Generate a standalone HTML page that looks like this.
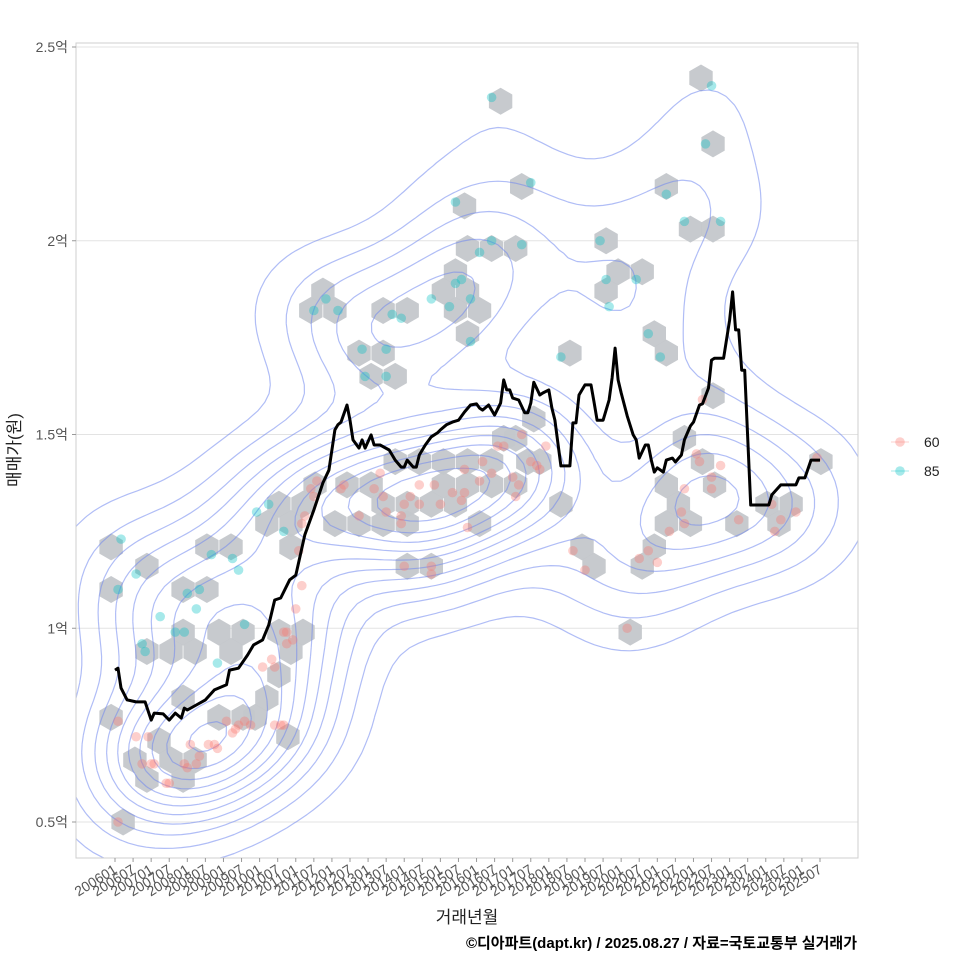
<!DOCTYPE html>
<html><head><meta charset="utf-8">
<style>
html,body{margin:0;padding:0;background:#fff;}
svg{display:block;font-family:"Liberation Sans","Noto Sans CJK KR",sans-serif;}
</style></head>
<body>
<svg id="chart" width="960" height="960" viewBox="0 0 960 960">
<rect x="0" y="0" width="960" height="960" fill="#fff"/>
<g id="grid"></g>
<g id="hexes"></g>
<g id="contours"></g>
<g id="pts"></g>
<g id="line"></g>
<rect x="76" y="43" width="782" height="815" fill="none" stroke="#cfcfcf" stroke-width="1"/>
<g id="axes"></g>
<text x="467" y="923" font-size="17" fill="#222" text-anchor="middle">거래년월</text>
<text x="0" y="0" font-size="17" fill="#222" text-anchor="middle" transform="translate(20,450) rotate(-90)">매매가(원)</text>
<text x="857" y="948" font-size="15" font-weight="bold" fill="#000" text-anchor="end">©디아파트(dapt.kr) / 2025.08.27 / 자료=국토교통부 실거래가</text>
<g id="legend"></g>
</svg>
<script>
// ---- data ----
const yTicks = [0.5, 1, 1.5, 2, 2.5];
const yTickLabels = ["0.5억", "1억", "1.5억", "2억", "2.5억"];
const xTickLabels = [];
for (let yr = 2006; yr <= 2025; yr++) { xTickLabels.push(yr + "01"); xTickLabels.push(yr + "07"); }

const lineMonth = [0,1,2,4,7,10,12,13,16,18,20,22,23,24,27,30,33,37,38,41,44,46,49,51,53,55,58,60,63,66,69,71,73,74,75,77,78,79,81,82,83,85,86,88,91,93,95,96,97,99,100,101,103,105,107,108,110,112,114,116,118,120,121,122,124,126,128,129,130,131,132,134,136,137,138,139,141,142,144,145,146,148,151,152,153,154,156,158,159,160,162,164,165,166,167,168,170,172,173,174,176,177,178,179,180,182,183,185,186,188,189,191,192,194,195,197,198,199,202,204,205,206,207,208,209,211,215,217,218,221,226,227,229,231,234];
const lineValue = [0.892,0.897,0.846,0.815,0.81,0.81,0.763,0.781,0.779,0.763,0.781,0.768,0.794,0.789,0.802,0.815,0.841,0.854,0.892,0.897,0.931,0.957,0.97,1.008,1.073,1.078,1.125,1.137,1.241,1.305,1.375,1.408,1.512,1.525,1.532,1.576,1.537,1.486,1.465,1.486,1.465,1.499,1.473,1.473,1.46,1.434,1.416,1.416,1.434,1.416,1.416,1.447,1.473,1.494,1.504,1.512,1.525,1.532,1.537,1.558,1.576,1.579,1.568,1.563,1.576,1.55,1.581,1.641,1.615,1.615,1.594,1.589,1.556,1.556,1.581,1.635,1.602,1.607,1.615,1.568,1.537,1.419,1.419,1.53,1.53,1.602,1.628,1.628,1.584,1.537,1.537,1.589,1.646,1.723,1.641,1.607,1.548,1.499,1.486,1.439,1.473,1.473,1.434,1.403,1.414,1.403,1.434,1.439,1.429,1.447,1.486,1.522,1.532,1.576,1.579,1.62,1.692,1.697,1.697,1.795,1.868,1.77,1.77,1.666,1.666,1.318,1.318,1.318,1.344,1.37,1.37,1.388,1.388,1.434,1.434];

const redMonth = [1,1,7,9,11,12,13,17,18,23,24,25,27,28,31,33,34,37,39,40,41,43,45,49,53,55,56,52,53,56,57,59,57,60,62,61,62,63,65,66,67,75,76,81,86,88,89,90,95,95,96,98,101,101,106,108,112,115,116,116,117,121,122,125,127,129,132,133,134,135,138,140,141,143,152,156,105,105,96,170,174,177,180,184,189,188,189,194,193,198,198,207,218,219,221,226,233,201,195];
const redValue = [0.76,0.50,0.72,0.65,0.72,0.65,0.65,0.60,0.60,0.65,0.64,0.70,0.65,0.67,0.70,0.70,0.69,0.76,0.73,0.74,0.75,0.76,0.75,0.90,0.75,0.75,0.75,0.92,0.90,0.99,0.99,0.97,0.96,1.05,1.11,1.20,1.27,1.29,1.36,1.34,1.38,1.36,1.37,1.29,1.36,1.40,1.34,1.30,1.29,1.27,1.32,1.34,1.32,1.37,1.37,1.32,1.35,1.33,1.35,1.41,1.26,1.38,1.43,1.40,1.47,1.47,1.39,1.34,1.37,1.50,1.43,1.42,1.41,1.47,1.20,1.15,1.16,1.14,1.16,1.00,1.18,1.20,1.17,1.25,1.27,1.30,1.36,1.43,1.45,1.36,1.39,1.28,1.32,1.25,1.28,1.30,1.44,1.42,1.59];

const tealMonth = [2,1,7,9,10,15,20,23,24,27,28,32,34,39,41,43,47,51,56,66,70,74,82,90,83,90,92,95,105,111,113,113,115,118,118,121,125,125,135,138,148,161,163,164,173,177,181,183,189,196,198,201];
const tealValue = [1.23,1.10,1.14,0.96,0.94,1.03,0.99,0.99,1.09,1.05,1.10,1.19,0.91,1.18,1.15,1.01,1.30,1.32,1.25,1.82,1.85,1.82,1.72,1.72,1.65,1.65,1.81,1.80,1.85,1.83,2.10,1.89,1.90,1.85,1.74,1.97,2.37,2.00,1.99,2.15,1.70,2.00,1.90,1.83,1.90,1.76,1.70,2.12,2.05,2.25,2.40,2.05];

const hexMonth = [-1.3,-1.3,-1.3,2.7,10.6,10.6,6.6,10.6,14.6,22.6,30.5,22.6,18.6,26.6,22.6,18.6,26.6,22.6,30.5,38.5,34.5,42.5,38.5,34.5,42.5,46.5,54.4,50.4,58.4,58.4,54.4,58.4,54.4,50.4,57.4,62.4,66.4,62.4,69,65,73,73,81,89,97,81,89,97,89,85,93,77,93,101,109,117,125,97,105,89,97,105,113,121,109,117,125,85,113,117,109,117,125,133,121,117,113,116,128,135,133,129,137,133,141,139,148,151,155,159,163,163,167,175,171,175,179,183,179,183,187,183,191,183,194.5,198.5,191,198.5,198.5,189,195,199,206.4,216.4,220.4,224.4,234.3];
const hexValue = [1.21,1.10,0.77,0.50,1.16,0.94,0.66,0.61,0.71,1.10,1.10,0.99,0.94,0.94,0.82,0.66,0.66,0.61,1.21,1.21,0.99,0.99,0.94,0.77,0.77,0.77,1.32,1.27,1.27,1.21,0.99,0.94,0.88,0.82,0.72,0.99,1.37,1.32,1.87,1.82,1.82,1.27,1.27,1.27,1.27,1.71,1.82,1.82,1.71,1.65,1.65,1.37,1.43,1.43,1.43,1.43,1.43,1.16,1.16,1.32,1.32,1.32,1.32,1.27,1.37,1.37,1.37,1.37,1.92,1.98,1.87,1.87,1.98,1.98,1.82,1.76,1.82,2.09,2.36,2.14,1.49,1.49,1.43,1.37,1.43,1.54,1.32,1.71,1.21,1.16,2.00,1.87,1.92,1.92,0.99,1.16,1.76,1.71,1.21,1.27,1.32,1.37,1.27,2.14,2.42,2.25,2.03,2.03,1.60,1.49,1.43,1.37,1.27,1.32,1.27,1.32,1.43];

// ---- scales ----
const NS = "http://www.w3.org/2000/svg";
const X0 = 115, PXM = 705 / 234;
const xScale = m => X0 + m * PXM;
const yScale = v => 822 - (v - 0.5) * 387.5;
function mk(tag, attrs, parent) {
  const e = document.createElementNS(NS, tag);
  for (const k in attrs) e.setAttribute(k, attrs[k]);
  parent.appendChild(e);
  return e;
}
const gGrid = document.getElementById("grid"), gAxes = document.getElementById("axes");

yTicks.forEach((t, i) => {
  const y = yScale(t);
  const gl = mk("line", {x1: 76, x2: 858, y1: y, y2: y, stroke: "#e3e3e3", "stroke-width": 1}, gGrid);
  
  
  const tk = mk("line", {x1: 72, x2: 76, y1: y, y2: y, stroke: "#999"}, gAxes);
  
  
  const lb = mk("text", {x: 68, y: y + 5, "font-size": 14, fill: "#555", "text-anchor": "end"}, gAxes);
  lb.textContent = yTickLabels[i];
  
  
});
xTickLabels.forEach((s, i) => {
  const x = xScale(i * 6);
  const tk = mk("line", {x1: x, x2: x, y1: 858, y2: 862, stroke: "#999"}, gAxes);
  
  
  const lb = mk("text", {x: 0, y: 0, "font-size": 14, fill: "#555", "text-anchor": "end", transform: `translate(${x + 3},${872}) rotate(-32)`}, gAxes);
  lb.textContent = s;
  
  
});

const gHex = document.getElementById("hexes");
const R = 13.5;
hexMonth.forEach((m, i) => {
  const cx = xScale(m), cy = yScale(hexValue[i]);
  let pts = [];
  for (let k = 0; k < 6; k++) {
    const a = Math.PI / 180 * (60 * k - 90);
    pts.push((cx + R * Math.cos(a)).toFixed(1) + "," + (cy + R * Math.sin(a)).toFixed(1));
  }
  const h = mk("polygon", {points: pts.join(" "), fill: "#c4c7cb", "fill-opacity": 0.95}, gHex);
  
  
});

(function () {
  const gC = document.getElementById("contours");
  const allX = [], allY = [];
  redMonth.forEach((m, i) => { allX.push(xScale(m)); allY.push(yScale(redValue[i])); });
  tealMonth.forEach((m, i) => { allX.push(xScale(m)); allY.push(yScale(tealValue[i])); });
  const hx = 55, hy = 48;
  const gx0 = 76, gy0 = 43, gw = 782, gh = 815, N = 90, M = 94;
  const dx = gw / (N - 1), dy = gh / (M - 1);
  const grid = [];
  let maxv = 0;
  for (let j = 0; j < M; j++) {
    const row = [];
    for (let i = 0; i < N; i++) {
      const px = gx0 + i * dx, py = gy0 + j * dy;
      let s = 0;
      for (let k = 0; k < allX.length; k++) {
        const u = (px - allX[k]) / hx, w = (py - allY[k]) / hy;
        s += Math.exp(-0.5 * (u * u + w * w));
      }
      row.push(s); if (s > maxv) maxv = s;
    }
    grid.push(row);
  }
  const nLev = 11;
  let d = "";
  for (let L = 1; L <= nLev; L++) {
    const lev = maxv * L / (nLev + 1);
    for (let j = 0; j < M - 1; j++) for (let i = 0; i < N - 1; i++) {
      const v0 = grid[j][i], v1 = grid[j][i + 1], v2 = grid[j + 1][i + 1], v3 = grid[j + 1][i];
      const x = gx0 + i * dx, y = gy0 + j * dy;
      const P = [];
      const f = (va, vb) => (lev - va) / (vb - va);
      if ((v0 > lev) !== (v1 > lev)) P.push([x + dx * f(v0, v1), y]);
      if ((v1 > lev) !== (v2 > lev)) P.push([x + dx, y + dy * f(v1, v2)]);
      if ((v3 > lev) !== (v2 > lev)) P.push([x + dx * f(v3, v2), y + dy]);
      if ((v0 > lev) !== (v3 > lev)) P.push([x, y + dy * f(v0, v3)]);
      for (let p = 0; p + 1 < P.length; p += 2)
        d += `M${P[p][0].toFixed(1)},${P[p][1].toFixed(1)}L${P[p + 1][0].toFixed(1)},${P[p + 1][1].toFixed(1)}`;
    }
  }
  const path = mk("path", {d: d, fill: "none", stroke: "#6f86ee", "stroke-opacity": 0.55, "stroke-width": 1.2}, gC);
  
  
})();

const gP = document.getElementById("pts");
redMonth.forEach((m, i) => {
  const c = mk("circle", {cx: xScale(m), cy: yScale(redValue[i]), r: 4.8, fill: "#f8766d", "fill-opacity": 0.35}, gP);
  
  
});
tealMonth.forEach((m, i) => {
  const c = mk("circle", {cx: xScale(m), cy: yScale(tealValue[i]), r: 4.8, fill: "#00bfc4", "fill-opacity": 0.35}, gP);
  
  
});

const gL = document.getElementById("line");
const ld = lineMonth.map((m, i) => (i ? "L" : "M") + xScale(m).toFixed(1) + "," + yScale(lineValue[i]).toFixed(1)).join("");
const pl = mk("path", {d: ld, fill: "none", stroke: "#000", "stroke-width": 3, "stroke-linejoin": "round"}, gL);



const gLeg = document.getElementById("legend");
[["60", "#f8766d", 442], ["85", "#00bfc4", 471]].forEach(([lab, col, y]) => {
  const g = mk("g", {}, gLeg);
  
  
  mk("line", {x1: 891, x2: 909, y1: y, y2: y, stroke: col, "stroke-opacity": 0.35, "stroke-width": 1}, g);
  mk("circle", {cx: 900, cy: y, r: 4.8, fill: col, "fill-opacity": 0.35}, g);
  const t = mk("text", {x: 924, y: y + 5, "font-size": 14, fill: "#222"}, g);
  t.textContent = lab;
});
</script>
</body></html>
